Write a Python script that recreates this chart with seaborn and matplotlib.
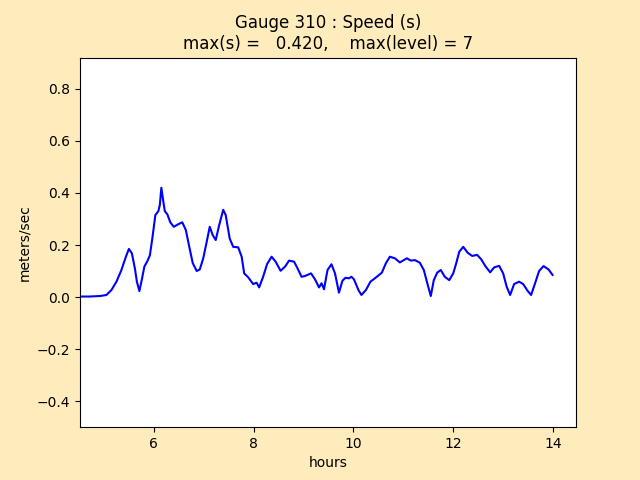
import numpy as np
import pandas as pd
import seaborn as sns
import matplotlib
matplotlib.use("Agg")
import matplotlib.pyplot as plt

# gauge 310 speed
hours = [4.52, 4.7, 4.92, 5.05, 5.15, 5.25, 5.35, 5.44, 5.50, 5.56, 5.62, 5.66, 5.71,
         5.75, 5.81, 5.87, 5.92, 5.97, 6.03, 6.09, 6.12, 6.15, 6.19, 6.22, 6.27, 6.33,
         6.40, 6.49, 6.57, 6.64, 6.71, 6.78, 6.86, 6.92, 6.99, 7.06, 7.12, 7.18, 7.24,
         7.31, 7.39, 7.44, 7.52, 7.59, 7.69, 7.76, 7.81, 7.89, 7.99, 8.06, 8.11, 8.19,
         8.27, 8.36, 8.44, 8.54, 8.63, 8.71, 8.81, 8.88, 8.96, 9.03, 9.15, 9.23, 9.31,
         9.36, 9.41, 9.48, 9.56, 9.63, 9.71, 9.78, 9.84, 9.91, 9.96, 10.01, 10.10, 10.16,
         10.25, 10.34, 10.47, 10.57, 10.65, 10.73, 10.83, 10.93, 11.07, 11.15, 11.23,
         11.33, 11.41, 11.48, 11.55, 11.61, 11.68, 11.75, 11.83, 11.92, 12.0, 12.06,
         12.12, 12.20, 12.29, 12.38, 12.48, 12.56, 12.65, 12.74, 12.82, 12.92, 13.0,
         13.07, 13.14, 13.22, 13.32, 13.40, 13.49, 13.56, 13.64, 13.72, 13.81, 13.91, 13.99]
speed = [0.002, 0.002, 0.004, 0.008, 0.027, 0.059, 0.104, 0.155, 0.185, 0.168, 0.11, 0.059, 0.023,
         0.059, 0.117, 0.138, 0.16, 0.226, 0.315, 0.33, 0.354, 0.42, 0.367, 0.33, 0.318, 0.287,
         0.27, 0.28, 0.287, 0.258, 0.193, 0.13, 0.10, 0.106, 0.149, 0.213, 0.27, 0.238, 0.219,
         0.277, 0.335, 0.315, 0.225, 0.193, 0.191, 0.155, 0.091, 0.076, 0.05, 0.055, 0.037, 0.078,
         0.127, 0.155, 0.136, 0.101, 0.117, 0.14, 0.136, 0.11, 0.078, 0.081, 0.091, 0.068, 0.037,
         0.053, 0.03, 0.104, 0.126, 0.091, 0.017, 0.063, 0.074, 0.072, 0.078, 0.068, 0.027, 0.008,
         0.027, 0.059, 0.078, 0.094, 0.13, 0.155, 0.149, 0.133, 0.149, 0.14, 0.142,
         0.132, 0.104, 0.053, 0.004, 0.065, 0.094, 0.104, 0.078, 0.065, 0.091, 0.13,
         0.174, 0.193, 0.17, 0.158, 0.162, 0.145, 0.117, 0.095, 0.114, 0.12, 0.091,
         0.04, 0.008, 0.05, 0.059, 0.05, 0.024, 0.008, 0.053, 0.10, 0.119, 0.106, 0.085]

gauge_no = 310
max_level = 7

df = pd.DataFrame({"hours": hours, "speed": speed})
smax = df["speed"].max()

fig = plt.figure(figsize=(6.4, 4.8), dpi=100, facecolor="#ffecbc")
ax = fig.add_subplot(111)
sns.lineplot(data=df, x="hours", y="speed", color="b", linewidth=1.5, ax=ax)

ax.set_xlim(4.52, 14.46)
ax.set_ylim(-0.5, smax + 0.5)
ax.set_xlabel("hours")
ax.set_ylabel("meters/sec")
ax.set_title("Gauge %i : Speed (s)\nmax(s) = %7.3f,    max(level) = %i" % (gauge_no, smax, max_level))

fig.savefig("out.png", dpi=100, facecolor=fig.get_facecolor())
